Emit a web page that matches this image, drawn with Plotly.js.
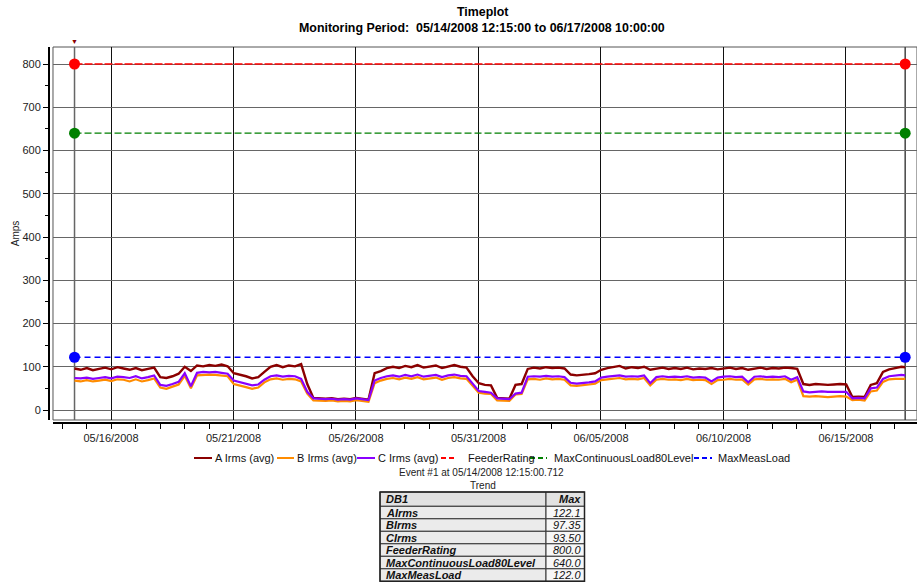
<!DOCTYPE html>
<html>
<head>
<meta charset="utf-8">
<script src="https://cdn.plot.ly/plotly-3.0.1.min.js"></script>
<style>
html,body{margin:0;padding:0;background:#fff;}
#chart{width:917px;height:586px;}
</style>
</head>
<body>
<div id="chart"></div>
<script>
// ---- Data (one reading every 6 hours from 05/14/2008 12:15, last at 06/17/2008 10:00) ----
const startTime = '2008-05-14 12:15';
const endTime = '2008-06-17 10:00';
const stepHours = 6;

const aIrms = [96,93,97,92,95,98,94,99,96,93,97,92,95,98,76,74,78,84,100,90,
  103,101,104,102,105,101,85,82,78,73,76,88,100,104,99,103,101,106,60,28,
  27,26,27,25,26,25,28,26,24,85,90,97,100,97,102,99,104,98,100,103,
  97,101,104,100,98,78,62,58,57,28,27,26,58,60,95,98,96,99,97,98,
  96,82,80,81,83,85,93,97,100,102,96,99,97,100,93,96,98,95,97,95,
  98,94,96,95,97,94,96,98,95,97,93,96,98,95,97,96,98,97,95,60,
  58,60,59,58,59,60,59,30,31,30,58,62,88,94,97,100,99];
const bIrms = [68,66,69,66,68,70,67,71,70,66,71,66,69,73,52,49,54,59,79,50,
  80,81,82,81,80,78,60,57,53,49,52,64,71,73,70,72,71,66,38,22,
  21,21,22,20,21,20,23,21,19,62,68,72,74,71,75,72,76,71,73,75,
  70,74,76,73,72,55,40,38,37,22,21,21,36,37,71,72,70,73,71,72,
  70,57,56,57,59,61,69,71,73,74,71,72,71,74,57,70,72,70,71,69,
  72,69,70,69,60,69,70,72,70,71,59,71,72,70,71,70,72,64,70,32,
  31,32,31,30,31,32,31,23,24,22,43,45,65,71,72,73,72];
const cIrms = [74,73,75,72,74,76,73,77,76,74,78,73,76,80,58,56,60,65,85,55,
  86,88,87,88,86,84,68,64,60,57,59,70,78,80,77,79,78,72,42,27,
  26,25,26,24,25,24,27,25,23,68,74,78,80,77,81,78,82,77,79,81,
  76,80,82,79,78,60,44,42,40,27,26,25,38,40,77,78,77,79,77,78,
  76,63,61,62,64,66,75,77,79,80,77,78,77,80,62,76,78,76,77,76,
  78,75,76,75,66,75,77,78,76,77,64,77,78,76,77,76,78,70,76,43,
  41,42,43,42,42,43,42,27,28,27,50,52,72,78,80,81,80];

const feederRating = [800, 800];
const maxContLoad = [640, 640];
const maxMeasLoad = [122, 122];

const seriesNames = ['A Irms (avg)','B Irms (avg)','C Irms (avg)','FeederRating','MaxContinuousLoad80Level','MaxMeasLoad'];

const tableHeader = ['DB1','Max'];
const tableNames = ['AIrms','BIrms','CIrms','FeederRating','MaxContinuousLoad80Level','MaxMeasLoad'];
const tableMax = ['122.1','97.35','93.50','800.0','640.0','122.0'];

const yTickVals = [0,100,200,300,400,500,600,700,800];

// ---- Styles / layout helpers ----
const FONT = 'Liberation Sans, Arial, Helvetica, sans-serif';
const seriesStyle = [
  {color:'#8B0000', dash:'solid', width:2.4},
  {color:'#FF8C00', dash:'solid', width:2.2},
  {color:'#8A00FF', dash:'solid', width:2.2},
  {color:'#FF0000', dash:'8px,2px', width:1.3},
  {color:'#008000', dash:'7px,3px', width:1.3},
  {color:'#0000FF', dash:'6px,4px', width:1.5}
];
// legend entry placement in page pixels: symbol start/end, text start
const legendPos = [
  {s0:194, s1:212, tx:214},
  {s0:277, s1:294, tx:296},
  {s0:357, s1:375, tx:377},
  {s0:441, s1:457, tx:467},
  {s0:530, s1:547, tx:553},
  {s0:694, s1:712, tx:717}
];
const legendY = 458;
const ML = 49, MT = 47, PW = 868, PH = 539;
const px2x = px => (px - ML) / PW;
const py2y = py => (586 - py) / PH;

// ---- Time axis for the readings ----
function fmt(ms){ return new Date(ms).toISOString().slice(0,16).replace('T',' '); }
const t0 = Date.parse(startTime.replace(' ','T') + ':00Z');
const times = [];
for (let i = 0; i < aIrms.length - 1; i++) times.push(fmt(t0 + i*stepHours*3600000));
times.push(endTime);
const levelTimes = [startTime, endTime];

const phaseData = [aIrms, bIrms, cIrms];
const levelData = [feederRating, maxContLoad, maxMeasLoad];

const traces = [];
phaseData.forEach((d, k) => traces.push({
  x: times, y: d, type:'scatter', mode:'lines', name: seriesNames[k],
  line:{color: seriesStyle[k].color, width: seriesStyle[k].width}, showlegend:false
}));
levelData.forEach((d, k) => traces.push({
  x: levelTimes, y: d, type:'scatter', mode:'lines+markers', name: seriesNames[k+3],
  line:{color: seriesStyle[k+3].color, width: seriesStyle[k+3].width, dash: seriesStyle[k+3].dash},
  marker:{color: seriesStyle[k+3].color, size:11}, showlegend:false
}));

// ---- Legend (drawn as shapes + texts to match the compact original) ----
const shapes = [
  {type:'rect', xref:'x domain', yref:'y domain', x0:0, x1:1, y0:0, y1:1, line:{color:'#555', width:1}, layer:'below'},
  {type:'line', xref:'x', yref:'y domain', x0:levelTimes[0], x1:levelTimes[0], y0:0, y1:1, line:{color:'#666', width:1.5}, layer:'below'},
  {type:'line', xref:'x', yref:'y domain', x0:levelTimes[1], x1:levelTimes[1], y0:0, y1:1, line:{color:'#444', width:1.5}, layer:'below'}
];
const annotations = [
  {xref:'paper', yref:'paper', x:px2x(482), y:py2y(12), text:'<b>Timeplot</b>', showarrow:false,
   font:{family:FONT, size:12.4, color:'#000'}, xanchor:'center', yanchor:'middle'},
  {xref:'paper', yref:'paper', x:px2x(482), y:py2y(28), text:'<b>Monitoring Period:  05/14/2008 12:15:00 to 06/17/2008 10:00:00</b>', showarrow:false,
   font:{family:FONT, size:12.4, color:'#000'}, xanchor:'center', yanchor:'middle'},
  {xref:'x', yref:'paper', x:levelTimes[0], y:py2y(41), text:'▼', showarrow:false, font:{size:7, color:'#8B0000'}, xanchor:'center', yanchor:'middle'},
  {xref:'paper', yref:'paper', x:px2x(481), y:py2y(472), text:'Event #1 at 05/14/2008 12:15:00.712', showarrow:false,
   font:{family:FONT, size:10, color:'#222'}, xanchor:'center', yanchor:'middle'},
  {xref:'paper', yref:'paper', x:px2x(483), y:py2y(485), text:'Trend', showarrow:false,
   font:{family:FONT, size:10, color:'#222'}, xanchor:'center', yanchor:'middle'}
];
seriesNames.forEach((nm, k) => {
  const p = legendPos[k];
  shapes.push({type:'line', xref:'paper', yref:'paper', x0:px2x(p.s0), x1:px2x(p.s1), y0:py2y(legendY), y1:py2y(legendY),
    line:{color: seriesStyle[k].color, width:2, dash: seriesStyle[k].dash === 'solid' ? 'solid' : '5px,3px'}});
  annotations.push({xref:'paper', yref:'paper', x:px2x(p.tx - 1), y:py2y(legendY), text:nm, showarrow:false,
    font:{family:FONT, size:11, color:'#111'}, xanchor:'left', yanchor:'middle'});
});

// ---- Table (cells drawn as shapes + texts) ----
const tblX = [380, 546, 584.5];
const tblTop = 492, headH = 14.3, rowH = 12.5;
const tblRows = [tableHeader].concat(tableNames.map((n, i) => [n, tableMax[i]]));
tblRows.forEach((row, r) => {
  const top = r === 0 ? tblTop : tblTop + headH + (r - 1) * rowH;
  const h = r === 0 ? headH : rowH;
  const fills = r === 0 ? ['#e2e2e2', '#e2e2e2'] : ['#ebebeb', '#f7f7f7'];
  for (let c = 0; c < 2; c++) {
    shapes.push({type:'rect', xref:'paper', yref:'paper', x0:px2x(tblX[c]), x1:px2x(tblX[c+1]), y0:py2y(top + h), y1:py2y(top),
      fillcolor: fills[c], line:{color:'#333', width:1}});
  }
  const cy = py2y(top + h / 2);
  annotations.push({xref:'paper', yref:'paper', x:px2x(tblX[0] + 4), y:cy, text:'<b><i>' + row[0] + '</i></b>', showarrow:false,
    font:{family:FONT, size:11, color:'#111'}, xanchor:'left', yanchor:'middle'});
  annotations.push({xref:'paper', yref:'paper', x:px2x(tblX[2] - 2), y:cy, text: r === 0 ? '<b><i>' + row[1] + '</i></b>' : '<i>' + row[1] + '</i>', showarrow:false,
    font:{family:FONT, size:11, color:'#111'}, xanchor:'right', yanchor:'middle'});
});
shapes.push({type:'rect', xref:'paper', yref:'paper', x0:px2x(tblX[0]), x1:px2x(tblX[2]),
  y0:py2y(tblTop + headH + (tblRows.length - 1) * rowH), y1:py2y(tblTop), line:{color:'#222', width:1.5}});

const layout = {
  width:917, height:586,
  margin:{l:ML, r:0, t:MT, b:0},
  paper_bgcolor:'#fff', plot_bgcolor:'#fff',
  font:{family:FONT, size:11, color:'#222'},
  showlegend:false,
  xaxis:{
    type:'date',
    domain:[0.004608, 1],
    range:['2008-05-13 15:10', '2008-06-17 21:35'],
    anchor:'free', position:0.3024,
    tick0:'2008-05-16', dtick:5*86400000,
    tickformat:'%m/%d/%Y',
    ticks:'outside', ticklen:5, tickcolor:'#000', tickwidth:1,
    showline:true, linecolor:'#000', linewidth:2,
    showgrid:true, gridcolor:'#111', gridwidth:1,
    zeroline:false,
    minor:{dtick:86400000, tick0:'2008-05-16', ticks:'outside', ticklen:5, tickcolor:'#000', showgrid:false},
    tickfont:{family:FONT, size:11, color:'#222'},
    fixedrange:true
  },
  yaxis:{
    domain:[0.30798, 1],
    range:[-23.1, 839.3],
    anchor:'free', position:0,
    tickvals:yTickVals,
    ticks:'outside', ticklen:5, tickcolor:'#000',
    showline:true, linecolor:'#000', linewidth:2,
    showgrid:true, gridcolor:'#666', gridwidth:1,
    zeroline:false,
    minor:{dtick:50, ticks:'outside', ticklen:3, tickcolor:'#000', showgrid:false},
    tickfont:{family:FONT, size:11, color:'#222'},
    title:{text:'Amps', font:{family:FONT, size:10, color:'#222'}, standoff:0},
    fixedrange:true
  },
  shapes: shapes,
  annotations: annotations
};

Plotly.newPlot('chart', traces, layout, {staticPlot:true, displayModeBar:false});
</script>
</body>
</html>
